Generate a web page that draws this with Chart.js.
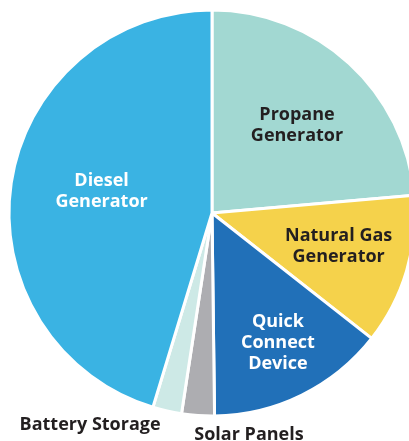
<!DOCTYPE html>
<html>
<head>
<meta charset="utf-8">
<script src="https://cdn.jsdelivr.net/npm/chart.js@4"></script>
<style>
  html, body { margin: 0; padding: 0; background: #fff; overflow: hidden; width: 409px; height: 441px; }
  canvas { display: block; }
</style>
</head>
<body>
<canvas id="pieChart" width="424" height="441"></canvas>
<script>
// slices, clockwise from 12 o'clock
const categories = ['Propane Generator', 'Natural Gas Generator', 'Quick Connect Device', 'Solar Panels', 'Battery Storage', 'Diesel Generator'];
const shares = [23.6, 12.0, 14.2, 2.6, 2.3, 45.3];
const sliceColors = ['#a2d8d2', '#f5d24b', '#2170b8', '#adadb1', '#cde9e6', '#3ab3e3'];

// label text lines + placement (inside: fraction of radius; outside: from arc edge) plus nudge
const labelLines = [['Propane', 'Generator'], ['Natural Gas', 'Generator'], ['Quick', 'Connect', 'Device'], ['Solar Panels'], ['Battery Storage'], ['Diesel', 'Generator']];
const labelStyle = [
    {inside: true, frac: 0.62, dx: 0, dy: 5, color: '#231f20'},
    {inside: true, frac: 0.62, dx: 6, dy: -2, color: '#231f20'},
    {inside: true, frac: 0.70, dx: 3, dy: 2, color: '#ffffff'},
    {inside: false, dx: 51, dy: 19, color: '#231f20'},
    {inside: false, dx: -77, dy: 14, color: '#231f20'},
    {inside: true, frac: 0.55, dx: 0, dy: -5, color: '#ffffff'}
];

const sliceLabels = {
    id: 'sliceLabels',
    afterDatasetsDraw(chart){
        const ctx = chart.ctx;
        const arcs = chart.getDatasetMeta(0).data;
        ctx.save();
        ctx.font = '700 18px "Open Sans"';
        ctx.textAlign = 'center';
        ctx.textBaseline = 'middle';
        const lh = 21;
        for(let i=0;i<arcs.length;i++){
            const p = arcs[i].getProps(['x','y','startAngle','endAngle','outerRadius'], true);
            const mid = (p.startAngle + p.endAngle) / 2;
            const st = labelStyle[i];
            const r = st.inside ? p.outerRadius * st.frac : p.outerRadius;
            const x = p.x + Math.cos(mid) * r + st.dx;
            const y = p.y + Math.sin(mid) * r + st.dy;
            const lines = labelLines[i];
            ctx.fillStyle = st.color;
            for(let j=0;j<lines.length;j++){
                ctx.fillText(lines[j], x, y + (j - (lines.length-1)/2) * lh);
            }
        }
        ctx.restore();
    }
};

const ctx = document.getElementById('pieChart').getContext('2d');
const myChart = new Chart(ctx, {
    type: 'pie',
    data: {
        labels: categories,
        datasets: [{
            data: shares,
            backgroundColor: sliceColors,
            borderColor: '#ffffff',
            borderWidth: 3
        }]
    },
    options: {
        responsive: false,
        animation: false,
        radius: 203,
        layout: { padding: { bottom: 15 } },
        plugins: {
            legend: { display: false },
            tooltip: { enabled: false }
        }
    },
    plugins: [sliceLabels]
});
</script>
</body>
</html>
